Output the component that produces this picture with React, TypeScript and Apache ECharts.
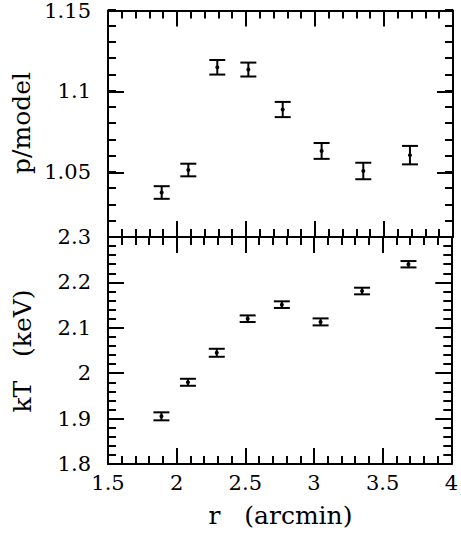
import React, { useEffect, useRef } from "react";
import * as echarts from "echarts";

// radius (arcmin)
const radius = [1.889, 2.082, 2.292, 2.517, 2.766, 3.048, 3.35, 3.688];
// top panel: p / model
const ratio = [1.0375, 1.0514, 1.1149, 1.1135, 1.0888, 1.0632, 1.0508, 1.0606];
const ratioErr = [0.0039, 0.0039, 0.0045, 0.0043, 0.0047, 0.0049, 0.0051, 0.0057];
// bottom panel: kT (keV)
const kT = [1.905, 1.98, 2.045, 2.12, 2.151, 2.113, 2.181, 2.24];
const kTErr = [0.0088, 0.0077, 0.0088, 0.0073, 0.0073, 0.0077, 0.0073, 0.007];

const ratioMajor = [1.05, 1.1, 1.15];

const FONT = "DejaVu Serif";
const BLACK = "#000";

export default function App() {
  const ref = useRef<HTMLDivElement>(null);

  useEffect(() => {
    document.body.style.margin = "0";
    if (!ref.current) return;
    const chart = echarts.init(ref.current, null, { renderer: "svg" });

    const line = { show: true, lineStyle: { color: BLACK, width: 2 } };
    const majorTick = { show: true, inside: true, length: 16, lineStyle: { color: BLACK, width: 2 } };
    const minorTick = { show: true, splitNumber: 5, length: 8, lineStyle: { color: BLACK, width: 2 } };
    const label = { color: BLACK, fontFamily: FONT, fontSize: 21 };

    const xBase = (grid: number, position: string, showLabel: boolean) => ({
      type: "value",
      gridIndex: grid,
      position,
      min: 1.5,
      max: 4,
      interval: 0.5,
      axisLine: line,
      axisTick: majorTick,
      minorTick: { ...minorTick },
      splitLine: { show: false },
      axisLabel: showLabel ? { ...label, margin: 8 } : { show: false },
    });

    const errorBars = (params: any, api: any) => {
      const x = api.value(0);
      const y = api.value(1);
      const e = api.value(2);
      const c = api.coord([x, y]);
      const hi = api.coord([x, y + e]);
      const lo = api.coord([x, y - e]);
      const w = 8;
      const st = { stroke: BLACK, lineWidth: 2 };
      return {
        type: "group",
        children: [
          { type: "line", shape: { x1: c[0], y1: hi[1], x2: c[0], y2: lo[1] }, style: st },
          { type: "line", shape: { x1: c[0] - w, y1: hi[1], x2: c[0] + w, y2: hi[1] }, style: st },
          { type: "line", shape: { x1: c[0] - w, y1: lo[1], x2: c[0] + w, y2: lo[1] }, style: st },
          { type: "circle", shape: { cx: c[0], cy: c[1], r: 2 }, style: { fill: BLACK } },
        ],
      };
    };

    chart.setOption({
      animation: false,
      backgroundColor: "#fff",
      grid: [
        { left: 108, top: 9.5, width: 345, height: 227.5 },
        { left: 108, top: 237, width: 345, height: 227 },
        { left: 108, top: 9.5, width: 345, height: 227.5 },
      ],
      xAxis: [
        xBase(0, "bottom", false),
        xBase(0, "top", false),
        xBase(1, "bottom", true),
        xBase(1, "top", false),
        { type: "value", gridIndex: 2, min: 1.5, max: 4, show: false },
      ],
      yAxis: [
        {
          type: "value",
          gridIndex: 0,
          position: "left",
          min: 1.01,
          max: 1.15,
          axisLine: line,
          axisTick: { ...majorTick, customValues: ratioMajor },
          axisLabel: { ...label, margin: 17, customValues: ratioMajor },
          splitLine: { show: false },
        },
        {
          type: "value",
          gridIndex: 0,
          position: "right",
          min: 1.01,
          max: 1.15,
          axisLine: line,
          axisTick: { ...majorTick, customValues: ratioMajor },
          axisLabel: { show: false },
          splitLine: { show: false },
        },
        {
          type: "value",
          gridIndex: 1,
          position: "left",
          min: 1.8,
          max: 2.3,
          interval: 0.1,
          axisLine: line,
          axisTick: majorTick,
          minorTick: { ...minorTick },
          axisLabel: { ...label, margin: 17 },
          splitLine: { show: false },
        },
        {
          type: "value",
          gridIndex: 1,
          position: "right",
          min: 1.8,
          max: 2.3,
          interval: 0.1,
          axisLine: line,
          axisTick: majorTick,
          minorTick: { ...minorTick },
          axisLabel: { show: false },
          splitLine: { show: false },
        },
        {
          type: "value",
          gridIndex: 2,
          position: "left",
          min: 1.01,
          max: 1.15,
          interval: 0.01,
          axisLine: { show: false },
          axisTick: { show: true, inside: true, length: 8, lineStyle: { color: BLACK, width: 2 } },
          axisLabel: { show: false },
          splitLine: { show: false },
        },
        {
          type: "value",
          gridIndex: 2,
          position: "right",
          min: 1.01,
          max: 1.15,
          interval: 0.01,
          axisLine: { show: false },
          axisTick: { show: true, inside: true, length: 8, lineStyle: { color: BLACK, width: 2 } },
          axisLabel: { show: false },
          splitLine: { show: false },
        },
      ],
      graphic: [
        {
          type: "text",
          x: 21,
          y: 123,
          rotation: Math.PI / 2,
          style: {
            text: "p/model",
            fontFamily: FONT,
            fontSize: 25,
            fill: BLACK,
            align: "center",
            verticalAlign: "middle",
          },
        },
        {
          type: "text",
          x: 22,
          y: 351,
          rotation: Math.PI / 2,
          style: {
            text: "kT   (keV)",
            fontFamily: FONT,
            fontSize: 25,
            fill: BLACK,
            align: "center",
            verticalAlign: "middle",
          },
        },
        {
          type: "text",
          x: 280.5,
          y: 515,
          style: {
            text: "r   (arcmin)",
            fontFamily: FONT,
            fontSize: 25,
            fill: BLACK,
            align: "center",
            verticalAlign: "middle",
          },
        },
      ],
      series: [
        {
          type: "custom",
          xAxisIndex: 0,
          yAxisIndex: 0,
          renderItem: errorBars,
          data: radius.map((r, i) => [r, ratio[i], ratioErr[i]]),
          clip: false,
        },
        {
          type: "custom",
          xAxisIndex: 2,
          yAxisIndex: 2,
          renderItem: errorBars,
          data: radius.map((r, i) => [r, kT[i], kTErr[i]]),
          clip: false,
        },
      ],
    });

    return () => chart.dispose();
  }, []);

  return <div ref={ref} style={{ width: 461, height: 538 }} />;
}
